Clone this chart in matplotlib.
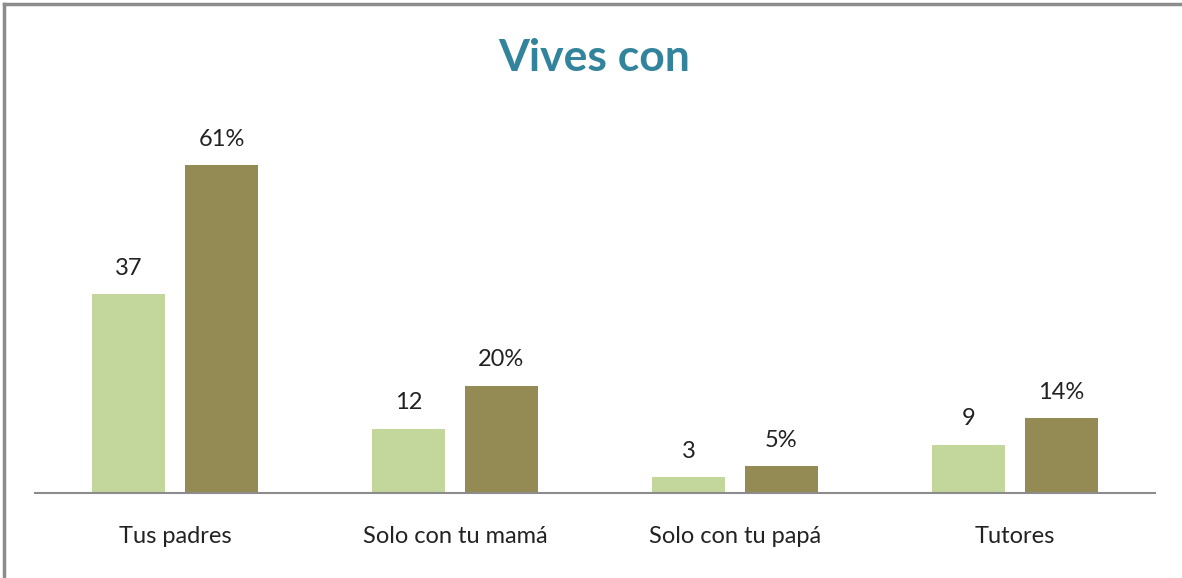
import matplotlib
matplotlib.use("Agg")
import matplotlib.pyplot as plt
import numpy as np
from matplotlib.lines import Line2D

categories = ["Tus padres", "Solo con tu mamá", "Solo con tu papá", "Tutores"]
counts = [37, 12, 3, 9]
percents = [61, 20, 5, 14]
count_labels = ["37", "12", "3", "9"]
percent_labels = ["61%", "20%", "5%", "14%"]

W, H = 1182, 578
fig = plt.figure(figsize=(W / 100, H / 100), dpi=100)
fig.patch.set_facecolor("white")

font = "Lato"
ax = fig.add_axes([35 / W, (H - 493) / H, 1120 / W, 376 / H])
x = np.arange(len(categories))
bw = 0.26
off = 0.166
ax.bar(x - off, counts, bw, color="#C3D69B", zorder=2)
ax.bar(x + off, percents, bw, color="#948A54", zorder=2)
ax.set_xlim(-0.5, len(categories) - 0.5)
ax.set_ylim(0, 70)

for xi, v, lab in zip(x, counts, count_labels):
    ax.annotate(lab, (xi - off, v), xytext=(0, 11), textcoords="offset points",
                ha="center", va="bottom", fontsize=17, family=font, color="#222222")
for xi, v, lab in zip(x, percents, percent_labels):
    ax.annotate(lab, (xi + off, v), xytext=(0, 11), textcoords="offset points",
                ha="center", va="bottom", fontsize=17, family=font, color="#222222")

for s in ["top", "right", "left"]:
    ax.spines[s].set_visible(False)
ax.spines["bottom"].set_color("#8C8C8C")
ax.spines["bottom"].set_linewidth(1.5)
ax.set_yticks([])
ax.set_xticks(x)
ax.set_xticklabels(categories, fontsize=17, family=font, color="#222222")
ax.tick_params(axis="x", length=0, pad=24)

fig.text(594 / W, 1 - 58 / H, "Vives con", ha="center", va="center",
         fontsize=32, fontweight="bold", family=font, color="#31849B")

# outer frame (top and left edges)
fig.add_artist(Line2D([4 / W, 1.05], [1 - 4 / H, 1 - 4 / H], color="#8C8C8C", lw=2.5,
                      transform=fig.transFigure))
fig.add_artist(Line2D([4 / W, 4 / W], [-0.05, 1 - 4 / H], color="#8C8C8C", lw=2.5,
                      transform=fig.transFigure))

fig.savefig("out.png", dpi=100)
